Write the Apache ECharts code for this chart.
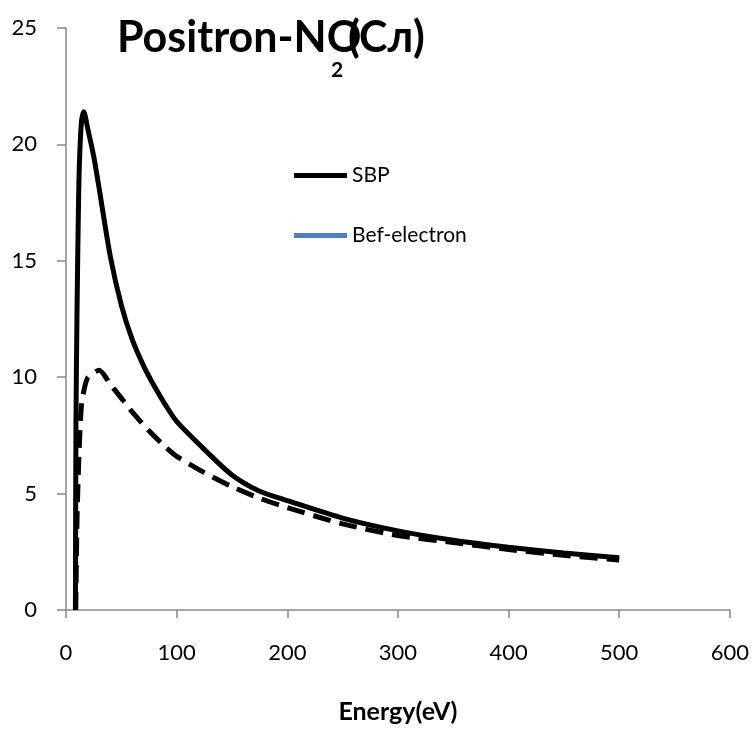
<!DOCTYPE html>
<html><head><meta charset="utf-8">
<script src="https://cdn.jsdelivr.net/npm/echarts@6/dist/echarts.min.js"></script>
<style>html,body{margin:0;padding:0;background:#fff}#c{width:752px;height:729px}</style>
</head><body><div id="c"></div>
<script>
const sbpX = [8.5, 9, 10, 11, 12, 14, 16, 20, 25, 30, 40, 50, 60, 70, 80, 90, 100, 125, 150, 175, 200, 250, 300, 350, 400, 450, 500];
const sbpY = [0, 8, 13, 16.5, 19, 21, 21.4, 20.6, 19.5, 18.1, 15.2, 13.1, 11.6, 10.5, 9.6, 8.8, 8.1, 6.9, 5.8, 5.1, 4.7, 3.95, 3.4, 3.0, 2.7, 2.45, 2.24];
const befX = [8.8, 10, 12, 14, 17, 20, 30, 40, 50, 60, 75, 90, 100, 125, 150, 175, 200, 250, 300, 350, 400, 450, 500];
const befY = [0, 4, 7, 8.8, 9.6, 10.0, 10.3, 9.7, 9.1, 8.5, 7.7, 7.0, 6.6, 5.9, 5.3, 4.8, 4.4, 3.7, 3.2, 2.9, 2.6, 2.35, 2.15];
const xTicks = [0, 100, 200, 300, 400, 500, 600];
const yTicks = [0, 5, 10, 15, 20, 25];

const font = 'Lato, "Open Sans", sans-serif';
const chart = echarts.init(document.getElementById('c'));
const pairs = (xs, ys) => xs.map((x, i) => [x, ys[i]]);
chart.setOption({
  animation: false,
  backgroundColor: '#fff',
  textStyle: { fontFamily: font },
  grid: { left: 66, right: 21, top: 28, bottom: 116 },
  graphic: [
    { type: 'text', left: 117, top: 17, style: { text: 'Positron-NO', font: 'bold 43px ' + font, fill: '#000' } },
    { type: 'text', left: 331, top: 60, style: { text: '2', font: 'bold 21px ' + font, fill: '#000' } },
    { type: 'text', left: 348, top: 17, style: { text: '(Сл)', font: 'bold 43px ' + font, fill: '#000' } }
  ],
  legend: {
    orient: 'vertical', left: 289, top: 160, itemGap: 39,
    itemWidth: 53, itemHeight: 5, icon: 'rect',
    textStyle: { fontSize: 21, color: '#000', fontFamily: font },
    data: [
      { name: 'SBP', itemStyle: { color: '#000' } },
      { name: 'Bef-electron', itemStyle: { color: '#4F81BD' } }
    ]
  },
  xAxis: {
    type: 'value', min: xTicks[0], max: xTicks[xTicks.length - 1], interval: 100,
    name: 'Energy(eV)', nameLocation: 'middle', nameGap: 89,
    nameTextStyle: { fontSize: 25, fontWeight: 'bold', color: '#000', fontFamily: font },
    axisLine: { show: true, onZero: false, lineStyle: { color: '#888', width: 1.5 } },
    axisTick: { show: true, length: 8, lineStyle: { color: '#888', width: 1.5 } },
    axisLabel: { fontSize: 22, color: '#000', margin: 32, fontFamily: font },
    splitLine: { show: false }
  },
  yAxis: {
    type: 'value', min: yTicks[0], max: yTicks[yTicks.length - 1], interval: 5,
    axisLine: { show: true, lineStyle: { color: '#888', width: 1.5 } },
    axisTick: { show: true, length: 9, lineStyle: { color: '#888', width: 1.5 } },
    axisLabel: { fontSize: 22, color: '#000', margin: 29, fontFamily: font },
    splitLine: { show: false }
  },
  series: [
    { name: 'SBP', type: 'line', data: pairs(sbpX, sbpY), smooth: 0.25,
      showSymbol: false, lineStyle: { color: '#000', width: 5 }, itemStyle: { color: '#000' } },
    { name: 'Bef-electron', type: 'line', data: pairs(befX, befY), smooth: 0.25,
      showSymbol: false, lineStyle: { color: '#000', width: 5, type: [18, 9] }, itemStyle: { color: '#000' } }
  ]
});
</script></body></html>
